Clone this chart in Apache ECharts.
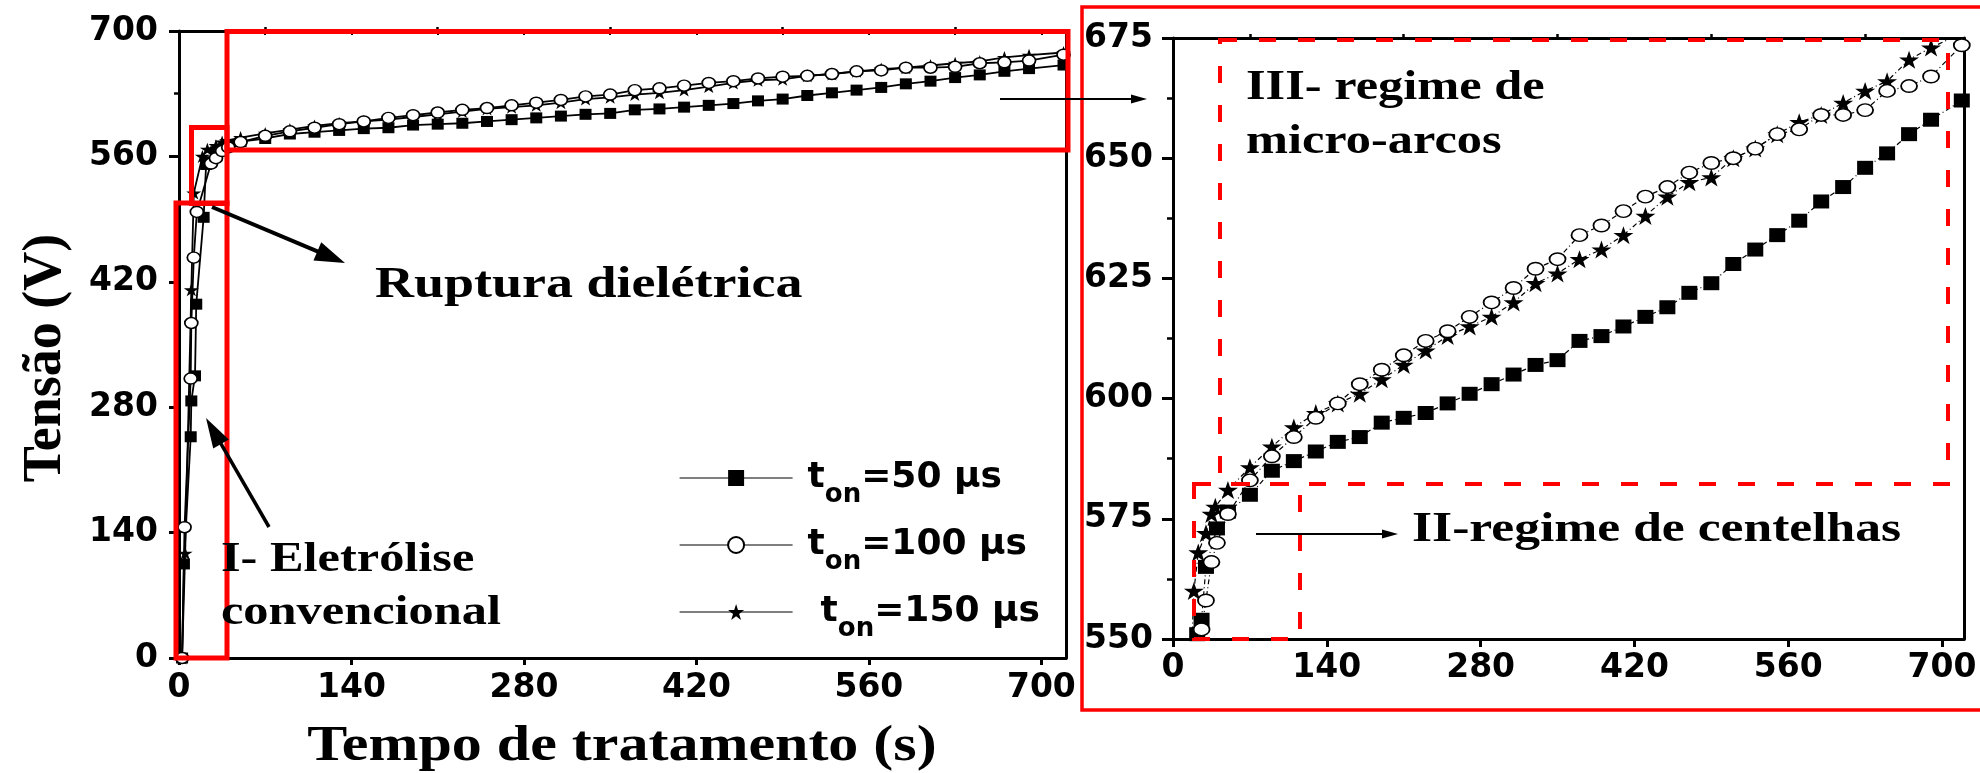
<!DOCTYPE html>
<html>
<head>
<meta charset="utf-8">
<script src="https://cdn.jsdelivr.net/npm/echarts@6/dist/echarts.min.js"></script>
<style>
html,body{margin:0;padding:0;background:#fff;}
#chart{width:1980px;height:773px;}
</style>
</head>
<body>
<div id="chart"></div>
<script>
// Tensão de tratamento x tempo para três larguras de pulso (t_on)
const legendNames = ['t_on=50 μs', 't_on=100 μs', 't_on=150 μs'];

const time50 = [2.5, 4, 9.5, 10, 13, 14, 20, 22, 26, 30, 40, 50,
  70, 90, 110, 130, 150, 170, 190, 210, 230, 250, 270, 290, 310, 330, 350, 370,
  390, 410, 430, 450, 470, 490, 510, 530, 550, 570, 590, 610, 630, 650, 670, 690, 718];
const volt50 = [0, 105, 247, 287, 315, 395, 492, 551, 554, 565, 573, 576.5,
  580, 585, 587, 589, 591, 592, 595, 596, 597, 599, 601, 603, 605, 607, 608, 612,
  613, 615, 617, 619, 622, 624, 628, 631, 634, 637, 641, 644, 648, 651, 655, 658, 662];

const time100 = [2.5, 4.5, 9.5, 10, 12, 14.5, 26, 30, 35, 40, 50,
  70, 90, 110, 130, 150, 170, 190, 210, 230, 250, 270, 290, 310, 330, 350, 370,
  390, 410, 430, 450, 470, 490, 510, 530, 550, 570, 590, 610, 630, 650, 670, 690, 718];
const volt100 = [0, 146, 312, 374, 447, 498, 552, 558, 566, 570, 576,
  583, 588, 592, 596, 599, 603, 606, 609, 612, 614, 617, 620, 623, 627, 629, 634,
  636, 639, 642, 644, 647, 649, 650, 652, 655, 656, 659, 659, 660, 664, 665, 667, 673.5];

const time150 = [2.5, 5, 10, 12, 19, 23, 30, 35, 38.5, 50,
  70, 90, 110, 130, 150, 170, 190, 210, 230, 250, 270, 290, 310, 330, 350, 370,
  390, 410, 430, 450, 470, 490, 510, 530, 550, 570, 590, 610, 630, 650, 670, 690, 718];
const volt150 = [0, 117, 411, 519, 560, 568, 572, 576, 577.5, 581,
  585.7, 590, 594, 597, 599, 601, 604, 607, 610, 613, 615, 617, 620, 624, 626, 629,
  631, 634, 638, 642, 645, 646, 650, 652, 655, 657.5, 659, 661.5, 664, 666, 670.5, 673, 676];

const timeTicks = [0, 140, 280, 420, 560, 700];
const timeMinorTicks = [70, 210, 350, 490, 630];
const voltTicksMain = [0, 140, 280, 420, 560, 700];
const voltTicksZoom = [550, 575, 600, 625, 650, 675];

const zip = (xs, ys) => xs.map((x, i) => [x, ys[i]]);

const STAR = 'path://M50,0 L61.2,34.5 L97.6,34.5 L68.2,55.9 L79.4,90.5 L50,69.1 L20.6,90.5 L31.8,55.9 L2.4,34.5 L38.8,34.5 Z';

const tickFont = { fontFamily: 'DejaVu Sans', fontWeight: 'bold', fontSize: 33, color: '#000' };
const serif = '"Liberation Serif", "Times New Roman", serif';
const RED = '#ff0000';

function xAxes(grid, labelMargin, tickLen, showTopTicks) {
  const base = { gridIndex: grid, type: 'value', min: 0, max: 720, interval: timeTicks[1] - timeTicks[0], splitLine: { show: false } };
  return [
    Object.assign({}, base, {
      axisLine: { onZero: false, lineStyle: { color: '#000', width: 3 } },
      axisTick: { length: tickLen, customValues: timeTicks, lineStyle: { color: '#000', width: 3 } },
      axisLabel: Object.assign({ margin: labelMargin, customValues: timeTicks }, tickFont)
    }),
    Object.assign({}, base, {
      axisLine: { show: false, onZero: false },
      axisTick: { length: 4, customValues: timeMinorTicks, lineStyle: { color: '#000', width: 2.5 } },
      axisLabel: { show: false }
    }),
    Object.assign({}, base, {
      position: 'top',
      axisLine: { onZero: false, lineStyle: { color: '#000', width: 3 } },
      axisTick: { show: showTopTicks, inside: true, length: 4, customValues: timeTicks.concat(timeMinorTicks), lineStyle: { color: '#000', width: 2 } },
      axisLabel: { show: false }
    })
  ];
}

function yAxes(grid, min, max, ticks, labelMargin, tickLen) {
  const base = { gridIndex: grid, type: 'value', min: min, max: max, interval: ticks[1] - ticks[0], splitLine: { show: false } };
  return [
    Object.assign({}, base, {
      axisLine: { onZero: false, lineStyle: { color: '#000', width: 3 } },
      axisTick: { length: tickLen, lineStyle: { color: '#000', width: 3 } },
      minorTick: { show: true, splitNumber: 2, length: Math.round(tickLen / 2), lineStyle: { color: '#000', width: 2.5 } },
      axisLabel: Object.assign({ margin: labelMargin }, tickFont)
    }),
    Object.assign({}, base, {
      position: 'right',
      axisLine: { onZero: false, lineStyle: { color: '#000', width: 3 } },
      axisTick: { show: false },
      axisLabel: { show: false }
    })
  ];
}

function seriesSet(xi, yi, sizes, lineW, lineType) {
  const common = { type: 'line', xAxisIndex: xi, yAxisIndex: yi, showAllSymbol: true, clip: true,
    emphasis: { disabled: true }, animation: false };
  return [
    Object.assign({}, common, {
      name: legendNames[0], data: zip(time50, volt50), symbol: 'rect', symbolSize: sizes[0],
      itemStyle: { color: '#000' }, lineStyle: { color: '#000', width: lineW, type: lineType }, z: 2
    }),
    Object.assign({}, common, {
      name: legendNames[2], data: zip(time150, volt150), symbol: STAR, symbolSize: sizes[2],
      itemStyle: { color: '#000' }, lineStyle: { color: '#000', width: lineW, type: lineType }, z: 3
    }),
    Object.assign({}, common, {
      name: legendNames[1], data: zip(time100, volt100), symbol: 'circle', symbolSize: sizes[1],
      itemStyle: { color: '#fff', borderColor: '#000', borderWidth: 1.6 }, lineStyle: { color: '#000', width: lineW, type: lineType }, z: 4
    })
  ];
}

function arrow(x1, y1, x2, y2, w, hl, hw) {
  const dx = x2 - x1, dy = y2 - y1, L = Math.hypot(dx, dy), ux = dx / L, uy = dy / L;
  const bx = x2 - ux * hl, by = y2 - uy * hl;
  return [
    { type: 'line', z: 100, shape: { x1: x1, y1: y1, x2: bx + ux * 2, y2: by + uy * 2 }, style: { stroke: '#000', lineWidth: w } },
    { type: 'polygon', z: 100, shape: { points: [[x2, y2], [bx - uy * hw, by + ux * hw], [bx + uy * hw, by - ux * hw]] }, style: { fill: '#000' } }
  ];
}

function rect(x, y, w, h, lw, dash) {
  return { type: 'rect', z: 99, shape: { x: x, y: y, width: w, height: h },
    style: { fill: 'none', stroke: RED, lineWidth: lw, lineDash: dash || null } };
}

function label(text, x, y, size, align) {
  return { type: 'text', z: 101, x: x, y: y, scaleX: 1.2,
    style: { text: text, font: 'bold ' + size + 'px ' + serif, fill: '#000', textAlign: align || 'left', textVerticalAlign: 'middle' } };
}

const chart = echarts.init(document.getElementById('chart'), null, { renderer: 'canvas' });

const option = {
  backgroundColor: '#fff',
  animation: false,
  grid: [
    { left: 179, top: 31, width: 887, height: 627 },
    { left: 1173, top: 38, width: 791, height: 601 }
  ],
  xAxis: xAxes(0, 14, 7, true).concat(xAxes(1, 13, 8, false)),
  yAxis: yAxes(0, 0, 700, voltTicksMain, 21, 10).concat(yAxes(1, 550, 675, voltTicksZoom, 20, 11)),
  legend: {
    data: legendNames,
    orient: 'vertical',
    left: 679,
    top: 460,
    padding: 0,
    itemWidth: 113,
    itemHeight: 20,
    itemGap: 19,
    selectedMode: false,
    lineStyle: { width: 1.2 },
    formatter: function (name) {
      const i = legendNames.indexOf(name);
      return '{' + (i === 2 ? 'ta' : 'tb') + '|t}{sub|on}{t|' + name.slice(4) + '}';
    },
    textStyle: {
      rich: {
        tb: { fontFamily: 'DejaVu Sans', fontWeight: 'bold', fontSize: 36, color: '#000', lineHeight: 60, padding: [0, 0, 0, 10] },
        ta: { fontFamily: 'DejaVu Sans', fontWeight: 'bold', fontSize: 36, color: '#000', lineHeight: 60, padding: [0, 0, 0, 23] },
        t: { fontFamily: 'DejaVu Sans', fontWeight: 'bold', fontSize: 36, color: '#000', lineHeight: 60 },
        sub: { fontFamily: 'DejaVu Sans', fontWeight: 'bold', fontSize: 26, color: '#000', lineHeight: 14, verticalAlign: 'bottom' }
      }
    }
  },
  series: seriesSet(0, 0, [[12, 11], [13, 11], [15, 13]], 1.8, 'solid')
    .concat(seriesSet(3, 2, [[16, 14], [16, 12.5], [20, 18]], 1.2, [5, 3, 1, 3])),
  graphic: [
    // axis titles
    { type: 'text', z: 101, x: 46, y: 358, rotation: Math.PI / 2,
      style: { text: 'Tensão (V)', font: 'bold 54px ' + serif, fill: '#000', textAlign: 'center', textVerticalAlign: 'middle' } },
    label('Tempo de tratamento (s)', 622, 747, 50, 'center'),
    // regions on the main plot
    rect(227, 31.5, 841, 118.5, 5),
    rect(191.5, 127.5, 35.5, 76, 5),
    rect(176, 203, 51, 455, 5),
    // inset frame and regimes
    rect(1082, 7, 1000, 703, 3.5),
    rect(1220, 40, 728, 444, 4, [17, 22]),
    rect(1194, 484, 106, 155, 4, [17, 22]),
    // annotations
    label('Ruptura dielétrica', 375, 285, 45),
    label('I- Eletrólise', 221, 560, 42),
    label('convencional', 221, 613, 42),
    label('III- regime de', 1246, 88, 42),
    label('micro-arcos', 1246, 142, 42),
    label('II-regime de centelhas', 1412, 530, 43)
  ].concat(arrow(212, 207, 345, 263, 4, 30, 10))
   .concat(arrow(269, 527, 206, 418, 3.5, 30, 9))
   .concat(arrow(1000, 99, 1147, 99, 2, 16, 4.5))
   .concat(arrow(1256, 534, 1398, 534, 2, 16, 4.5))
};

chart.setOption(option);
</script>
</body>
</html>
